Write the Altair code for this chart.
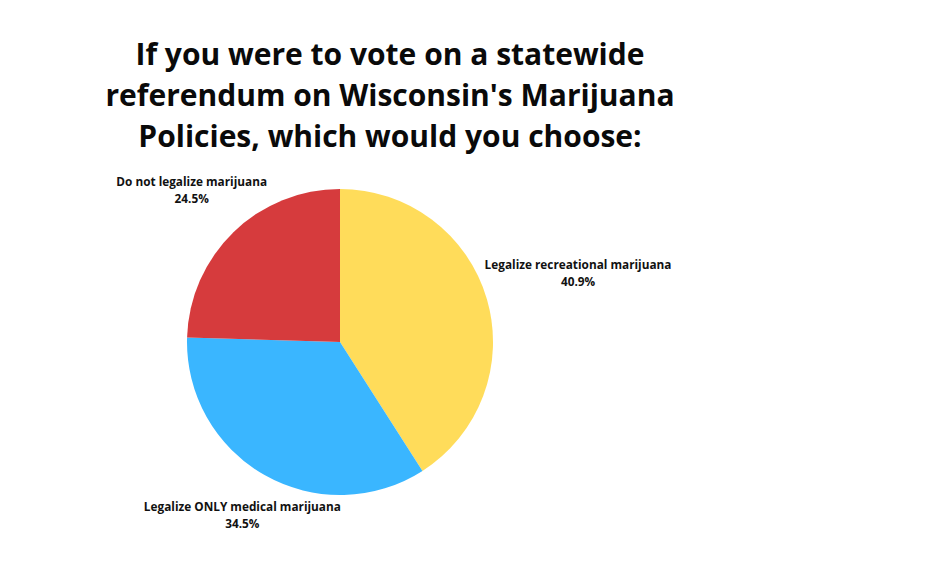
import math
import altair as alt
import pandas as pd

categories = ["Legalize recreational marijuana", "Legalize ONLY medical marijuana", "Do not legalize marijuana"]
percents = [40.9, 34.5, 24.5]
colors = ["#FFDC5A", "#3AB6FF", "#D63B3D"]
title_lines = ["If you were to vote on a statewide",
               "referendum on Wisconsin's Marijuana",
               "Policies, which would you choose:"]

df = pd.DataFrame({"category": categories, "pct": percents, "order": [0, 1, 2]})
total = sum(percents)

CX, CY, R = 332, 334, 153

pie = alt.Chart(df).mark_arc(outerRadius=R, stroke=None).encode(
    theta=alt.Theta("pct:Q", stack=True),
    order=alt.Order("order:Q"),
    x=alt.value(CX), y=alt.value(CY),
    color=alt.Color("category:N", scale=alt.Scale(domain=categories, range=colors), legend=None),
)

labels = alt.Chart(df).transform_window(
    cum="sum(pct)", sort=[alt.SortField("order")], frame=[None, 0]
).transform_calculate(
    mid="datum.cum - datum.pct / 2",
    label="datum.category + '\\n' + format(datum.pct, '.1f') + '%'",
    lr="datum.order == 0 ? 248 : (datum.order == 1 ? 198 : 213)",
).mark_text(
    font="Open Sans", fontWeight="bold", fontSize=11.8, lineBreak="\n", lineHeight=17,
    align="center", baseline="middle", color="#111111", dy=-7,
).encode(
    theta=alt.Theta("mid:Q", stack=False, scale=alt.Scale(domain=[0, total], range=[0, 2 * math.pi])),
    x=alt.value(CX), y=alt.value(CY),
    radius=alt.Radius("lr:Q", scale=None),
    text="label:N",
)

title = alt.Chart(pd.DataFrame({"a": [0]})).mark_text(
    font="Open Sans", fontWeight="bold", fontSize=30, lineHeight=41,
    align="center", baseline="alphabetic", color="#0a0a0a",
).encode(x=alt.value(382), y=alt.value(57), text=alt.value(title_lines))

chart = alt.layer(pie, labels, title).resolve_scale(theta="independent").properties(
    width=918, height=562, autosize=alt.AutoSizeParams(type="none"), padding=0,
).configure_view(stroke=None)

chart.save("out.html", embed_options={"renderer": "svg", "actions": False})
